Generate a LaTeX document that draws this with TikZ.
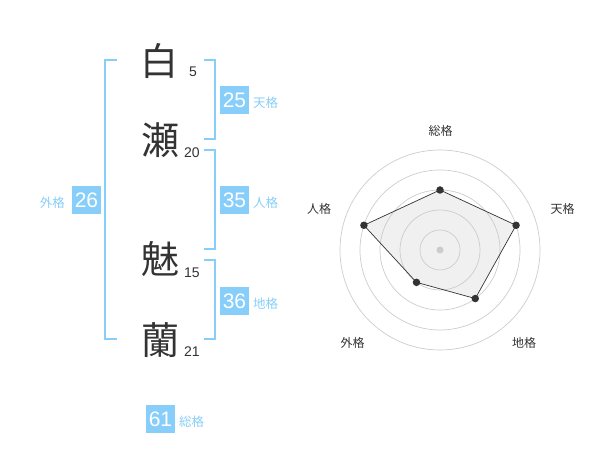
\documentclass[tikz,border=0pt]{standalone}
\usepackage{fontspec}
\setmainfont{Liberation Sans}
\newfontfamily\jp{Noto Sans CJK JP}
\definecolor{sky}{RGB}{135,206,250}
\definecolor{ink}{RGB}{51,51,51}
\definecolor{ring}{RGB}{204,204,204}
\definecolor{area}{RGB}{240,240,240}
\begin{document}
\begin{tikzpicture}[x=1pt,y=-1pt,
  kanji/.style={inner sep=0pt,text=ink,font=\jp\fontsize{38}{38}\selectfont},
  stroke/.style={inner sep=0pt,text=ink,font=\fontsize{14}{14}\selectfont},
  scorebox/.style={fill=sky,text=white,inner sep=0pt,minimum width=29pt,minimum height=28pt,font=\fontsize{21}{21}\selectfont},
  scorelab/.style={inner sep=0pt,text=sky,font=\jp\fontsize{12.5}{12.5}\selectfont},
  bracket/.style={draw=sky,line width=2pt},
  axislab/.style={inner sep=0pt,text=ink,font=\jp\fontsize{12}{12}\selectfont},
  dot/.style={circle,fill=ink,inner sep=0pt,minimum size=7.5pt}]
\useasboundingbox (0,0) rectangle (600,470);
% characters
\node[kanji] (c1) at (159,61) {白};
\node[kanji] (c2) at (160,140) {瀬};
\node[kanji] (c3) at (160,259) {魅};
\node[kanji] (c4) at (160,340) {蘭};
\node[stroke] (n1) at (193,72) {5};
\node[stroke] (n2) at (192,153) {20};
\node[stroke] (n3) at (192,273) {15};
\node[stroke] (n4) at (192,352) {21};
% brackets
\draw[bracket] (117,60) -- (105,60) -- (105,339) -- (117,339);
\draw[bracket] (204,60) -- (215,60) -- (215,139) -- (204,139);
\draw[bracket] (204,150) -- (215,150) -- (215,249) -- (204,249);
\draw[bracket] (204,260) -- (215,260) -- (215,339) -- (204,339);
% score boxes
\node[scorebox] (s1) at (234.5,100) {25};
\node[scorelab,anchor=west] (l1) at (253,103) {天格};
\node[scorebox] (s2) at (234.5,200) {35};
\node[scorelab,anchor=west] (l2) at (253,203) {人格};
\node[scorebox] (s3) at (234.5,301) {36};
\node[scorelab,anchor=west] (l3) at (253,304) {地格};
\node[scorebox] (s4) at (86.5,200) {26};
\node[scorelab,anchor=east] (l4) at (65,203) {外格};
\node[scorebox] (s5) at (160.5,419) {61};
\node[scorelab,anchor=west] (l5) at (179,422) {総格};
% radar
\begin{scope}[shift={(440,250)},yscale=-1]
  \coordinate (p1) at (90:60);
  \coordinate (p2) at (18:80);
  \coordinate (p3) at (-54:60);
  \coordinate (p4) at (-126:40);
  \coordinate (p5) at (162:80);
  \fill[area] (p1) -- (p2) -- (p3) -- (p4) -- (p5) -- cycle;
  \foreach \r in {20,40,60,80,100} \draw[ring,line width=0.7pt] (0,0) circle (\r);
  \draw[draw=ink,line width=0.7pt] (p1) -- (p2) -- (p3) -- (p4) -- (p5) -- cycle;
  \node[circle,fill=ring,inner sep=0pt,minimum size=7pt] (c0) at (0,0) {};
  \foreach \p in {p1,p2,p3,p4,p5} \node[dot] at (\p) {};
\end{scope}
\node[axislab] (a1) at (440.5,131) {総格};
\node[axislab] (a2) at (562.5,209) {天格};
\node[axislab] (a3) at (524,342.5) {地格};
\node[axislab] (a4) at (352.5,342.5) {外格};
\node[axislab] (a5) at (319,209) {人格};
\end{tikzpicture}
\end{document}
